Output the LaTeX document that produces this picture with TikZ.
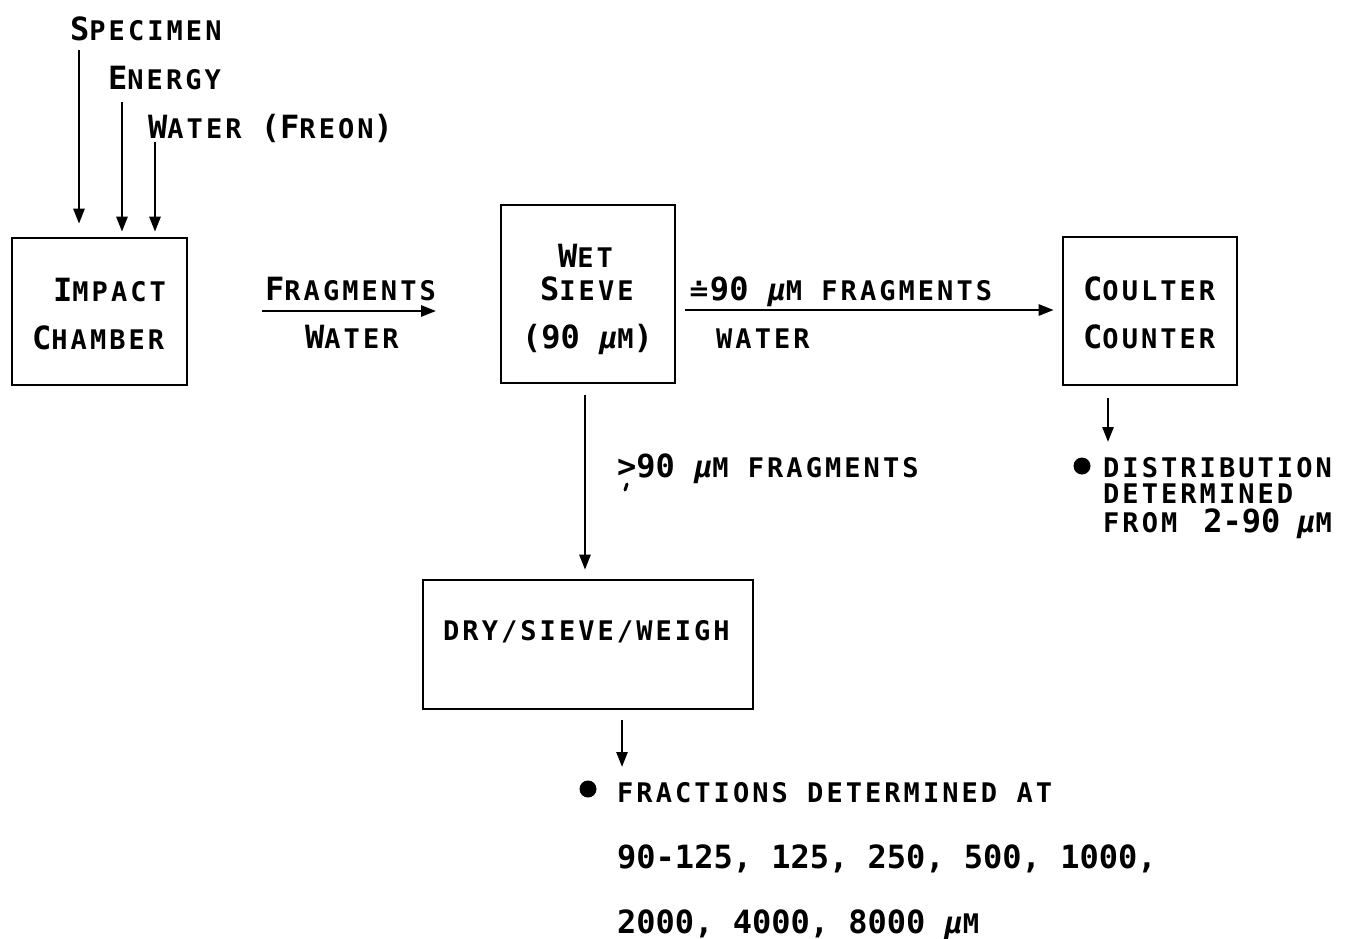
\documentclass[tikz,border=0pt]{standalone}
\usepackage{fontspec}
\setmainfont{DejaVu Sans Mono}
\newfontfamily\smfam[LetterSpace=11.3]{DejaVu Sans Mono}
\newfontfamily\bgfam{DejaVu Sans Mono}
\newfontfamily\symfam{DejaVu Sans}
\usetikzlibrary{arrows.meta}
\newcommand\smt[1]{{\smfam\bfseries\fontsize{27}{30}\selectfont #1}}
\newcommand\bgt[1]{{\bgfam\bfseries\fontsize{32}{36}\selectfont #1}}
\newcommand\muu{{\bgfam\fontsize{30}{30}\selectfont\bfseries\itshape μ}}
\begin{document}
\begin{tikzpicture}[x=1pt,y=-1pt,
  box/.style={draw,line width=2.6pt,inner sep=0pt},
  lbl/.style={anchor=base west,inner sep=0pt},
  arr/.style={line width=2.6pt,-{Triangle[length=15pt,width=11pt]}},
  dot/.style={circle,fill,inner sep=0pt,minimum size=17pt}]
\useasboundingbox (0,0) rectangle (1358,938);
% boxes
\node[box,minimum width=175pt,minimum height=147pt] (impact) at (99.5,311.5) {};
\node[box,minimum width=174pt,minimum height=178pt] (wet) at (588,294) {};
\node[box,minimum width=174pt,minimum height=148pt] (coulter) at (1150,311) {};
\node[box,minimum width=330pt,minimum height=129pt] (dry) at (588,644.5) {};
% top labels
\node[lbl] (spec) at (70,40) {\bgt{S}\smt{PECIMEN}};
\node[lbl] (energy) at (108,89) {\bgt{E}\smt{NERGY}};
\node[lbl] (wtop) at (148,138) {\bgt{W}\smt{ATER\ }\bgt{(F}\smt{REON}\bgt{)}};
% box texts
\node[lbl] (imp1) at (53,301) {\bgt{I}\smt{MPACT}};
\node[lbl] (imp2) at (32,349) {\bgt{C}\smt{HAMBER}};
\node[lbl] (wet1) at (558,267) {\bgt{W}\smt{ET}};
\node[lbl] (wet2) at (540,300) {\bgt{S}\smt{IEVE}};
\node[lbl] (wet3) at (522,348) {\bgt{(90\ }\muu\smt{M}\bgt{)}};
\node[lbl] (cou1) at (1083,300) {\bgt{C}\smt{OULTER}};
\node[lbl] (cou2) at (1083,348) {\bgt{C}\smt{OUNTER}};
\node[lbl] (dry1) at (443,640) {\smt{DRY/SIEVE/WEIGH}};
% connector labels
\node[lbl] (frag) at (265,300) {\bgt{F}\smt{RAGMENTS}};
\node[lbl] (fwat) at (305,348) {\bgt{W}\smt{ATER}};
\node[lbl] (rfrag) at (688,300) {{\symfam\bfseries\fontsize{26}{30}\selectfont ≐}\bgt{90\ }\muu\smt{M FRAGMENTS}};
\node[lbl] (rwat) at (716,348) {\smt{WATER}};
\node[lbl] (dfrag) at (617,477) {\bgt{>90\ }\muu\smt{M FRAGMENTS}};
% results
\node[dot] (b1) at (1082,466) {};
\node[lbl] (dist1) at (1103,477) {\smt{DISTRIBUTION}};
\node[lbl] (dist2) at (1103,503) {\smt{DETERMINED}};
\node[lbl] (dist3) at (1103,532) {\smt{FROM}\hspace{26pt}\bgt{2-90}\hspace{17pt}\muu\smt{M}};
\node[dot] (b2) at (588,789) {};
\node[lbl] (frac1) at (617,802) {\smt{FRACTIONS DETERMINED AT}};
\node[lbl] (frac2) at (617,868) {\bgt{90-125, 125, 250, 500, 1000,}};
\node[lbl] (frac3) at (617,933) {\bgt{2000, 4000, 8000\ }\muu\smt{M}};
% stray mark under >90
\draw[line width=3pt,line cap=round] (627,484) -- (625,490);
% connectors
\coordinate (a1) at (79,50);
\coordinate (a2) at (122,102);
\coordinate (a3) at (155,142);
\draw[arr,shorten >=13pt] (a1) -- (a1 |- impact.north);
\draw[arr,shorten >=5pt] (a2) -- (a2 |- impact.north);
\draw[arr,shorten >=5pt] (a3) -- (a3 |- impact.north);
\coordinate (f1) at (262,311);
\draw[arr] (f1) -- (f1 -| frag.base east);
\coordinate (r1) at (685,310);
\draw[arr,shorten >=8pt] (r1) -- (r1 -| coulter.west);
\coordinate (d1) at (585,395);
\draw[arr,shorten >=9pt] (d1) -- (d1 |- dry.north);
\coordinate (c1) at (1108,398);
\draw[arr] (c1) -- (c1 |- 0,442);
\coordinate (e1) at (622,720);
\draw[arr] (e1) -- (e1 |- 0,767);
\end{tikzpicture}
\end{document}
